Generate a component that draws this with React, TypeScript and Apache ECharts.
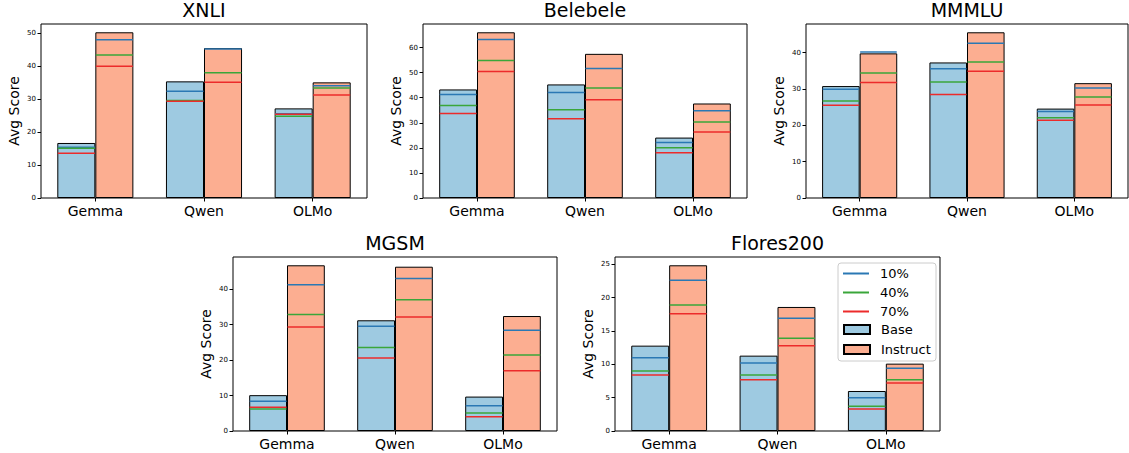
import React, { useEffect, useRef } from "react";
import * as echarts from "echarts";

const categories = ["Gemma", "Qwen", "OLMo"];
const benchmarks = ["XNLI", "Belebele", "MMMLU", "MGSM", "Flores200"];

// totals
const xnliBase = [16.7, 35.4, 27.2];
const xnliInstruct = [50.3, 45.5, 35.1];
const belebeleBase = [43.3, 45.3, 24.1];
const belebeleInstruct = [66.1, 57.5, 37.7];
const mmmluBase = [30.8, 37.3, 24.6];
const mmmluInstruct = [39.8, 45.6, 31.6];
const mgsmBase = [10.1, 31.2, 9.7];
const mgsmInstruct = [46.7, 46.3, 32.4];
const floresBase = [12.8, 11.3, 6.0];
const floresInstruct = [24.85, 18.6, 10.1];

// percentile markers: [10%, 40%, 70%] per model
const xnliBaseP = [[15.4, 15.1, 13.6], [32.4, 29.6, 29.4], [25.6, 24.8, 25.4]];
const xnliInstructP = [[48.0, 43.4, 40.0], [45.2, 38.0, 35.1], [34.1, 33.4, 31.3]];
const belebeleBaseP = [[41.3, 36.9, 33.7], [42.1, 35.2, 31.6], [22.1, 20.0, 18.0]];
const belebeleInstructP = [[63.2, 54.8, 50.5], [51.7, 43.9, 39.2], [34.8, 30.3, 26.3]];
const mmmluBaseP = [[29.9, 26.7, 25.5], [35.6, 31.9, 28.5], [23.8, 22.1, 21.4]];
const mmmluInstructP = [[40.2, 34.4, 31.8], [42.6, 37.4, 34.9], [30.3, 27.8, 25.6]];
const mgsmBaseP = [[8.4, 6.2, 6.7], [29.5, 23.5, 20.6], [7.1, 5.1, 4.0]];
const mgsmInstructP = [[41.2, 32.8, 29.3], [43.0, 37.0, 32.1], [28.4, 21.4, 17.0]];
const floresBaseP = [[11.0, 9.0, 8.4], [10.2, 8.4, 7.7], [5.0, 3.7, 3.3]];
const floresInstructP = [[22.6, 18.9, 17.6], [16.9, 13.9, 12.8], [9.4, 7.7, 7.2]];

const yIntervals = [10, 10, 10, 10, 5];
const percentNames = ["10%", "40%", "70%"];
const percentColors = ["#2a78b4", "#3aa63a", "#ec2b2b"];

const baseSets = [xnliBase, belebeleBase, mmmluBase, mgsmBase, floresBase];
const instructSets = [xnliInstruct, belebeleInstruct, mmmluInstruct, mgsmInstruct, floresInstruct];
const baseP = [xnliBaseP, belebeleBaseP, mmmluBaseP, mgsmBaseP, floresBaseP];
const instructP = [xnliInstructP, belebeleInstructP, mmmluInstructP, mgsmInstructP, floresInstructP];

const grids = [
  { left: 41, top: 24, width: 326, height: 174 },
  { left: 423, top: 24, width: 324, height: 174 },
  { left: 806, top: 24, width: 322, height: 174 },
  { left: 233, top: 257, width: 324, height: 174 },
  { left: 615, top: 257, width: 325, height: 174 },
];

const FONT = "DejaVu Sans";
const BASE_COLOR = "#9ecae1";
const INSTRUCT_COLOR = "#fcae91";

export default function App() {
  const ref = useRef<HTMLDivElement>(null);
  useEffect(() => {
    if (!ref.current) return;
    const chart = echarts.init(ref.current, undefined, { renderer: "svg" });

    const series: any[] = [];
    benchmarks.forEach((_, i) => {
      series.push({
        name: "Base",
        type: "bar",
        xAxisIndex: i,
        yAxisIndex: i,
        data: baseSets[i],
        barWidth: "35%",
        barGap: "0%",
        itemStyle: { color: BASE_COLOR, borderColor: "#000", borderWidth: 1 },
        z: 2,
      });
      series.push({
        name: "Instruct",
        type: "bar",
        xAxisIndex: i,
        yAxisIndex: i,
        data: instructSets[i],
        barWidth: "35%",
        barGap: "0%",
        itemStyle: { color: INSTRUCT_COLOR, borderColor: "#000", borderWidth: 1 },
        z: 2,
      });
      percentNames.forEach((pn, k) => {
        const data: number[][] = [];
        categories.forEach((_, c) => {
          data.push([c, baseP[i][c][k], 0]);
          data.push([c, instructP[i][c][k], 1]);
        });
        series.push({
          name: pn,
          type: "custom",
          xAxisIndex: i,
          yAxisIndex: i,
          data,
          encode: { x: 0, y: 1 },
          itemStyle: { color: percentColors[k] },
          z: 5 + k,
          renderItem: (params: any, api: any) => {
            const cat = api.value(0);
            const val = api.value(1);
            const side = api.value(2);
            const p = api.coord([cat, val]);
            const band = api.size([1, 0])[0];
            const bw = band * 0.35;
            const x0 = side === 0 ? p[0] - bw : p[0];
            return {
              type: "line",
              shape: { x1: x0 + 0.5, y1: p[1], x2: x0 + bw - 0.5, y2: p[1] },
              style: { stroke: percentColors[k], lineWidth: 1.5 },
            };
          },
        });
      });
    });

    const option: any = {
      animation: false,
      textStyle: { fontFamily: FONT },
      title: benchmarks.map((b, i) => ({
        text: b,
        left: grids[i].left + grids[i].width / 2,
        top: grids[i].top - 24,
        textAlign: "center",
        padding: 0,
        textStyle: { fontFamily: FONT, fontSize: 19, fontWeight: "normal", color: "#000" },
      })),
      grid: grids.map((g) => ({
        ...g,
        show: true,
        borderColor: "#000",
        borderWidth: 1,
        backgroundColor: "transparent",
        containLabel: false,
      })),
      xAxis: benchmarks.map((_, i) => ({
        type: "category",
        gridIndex: i,
        data: categories,
        axisLine: { show: false },
        axisTick: { show: true, alignWithLabel: true, length: 3.5, lineStyle: { color: "#000" } },
        axisLabel: { fontFamily: FONT, fontSize: 14, color: "#000", margin: 6 },
      })),
      yAxis: benchmarks.map((_, i) => {
        const m = Math.max(...baseSets[i], ...instructSets[i], ...baseP[i].flat(), ...instructP[i].flat());
        return {
          type: "value",
          gridIndex: i,
          min: 0,
          max: m * 1.05,
          interval: yIntervals[i],
          name: "Avg Score",
          nameLocation: "middle",
          nameGap: 20,
          nameTextStyle: { fontFamily: FONT, fontSize: 14, color: "#000" },
          splitLine: { show: false },
          axisLine: { show: false },
          axisTick: { show: true, length: 3.5, lineStyle: { color: "#000" } },
          axisLabel: {
            fontFamily: FONT,
            fontSize: 7,
            color: "#000",
            margin: 5,
            showMaxLabel: false,
          },
        };
      }),
      legend: [
        {
          data: percentNames,
          orient: "vertical",
          left: 838,
          top: 262,
          itemWidth: 26,
          itemHeight: 2,
          icon: "rect",
          itemGap: 6,
          textStyle: { fontFamily: FONT, fontSize: 13, color: "#000", padding: [0, 0, 0, 6] },
        },
        {
          data: ["Base", "Instruct"],
          orient: "vertical",
          left: 838,
          top: 318,
          itemWidth: 26,
          itemHeight: 9,
          icon: "rect",
          itemGap: 7,
          textStyle: { fontFamily: FONT, fontSize: 13, color: "#000", padding: [0, 0, 0, 6] },
        },
      ],
      graphic: [
        {
          type: "rect",
          z: 3,
          shape: { x: 838, y: 263, width: 98, height: 98, r: 3 },
          style: { fill: "rgba(255,255,255,0.85)", stroke: "#cccccc", lineWidth: 1 },
        },
      ],
      series,
    };
    chart.setOption(option);
    return () => chart.dispose();
  }, []);

  return (
    <div
      ref={ref}
      style={{ position: "fixed", left: 0, top: 0, width: 1129, height: 453, background: "#fff" }}
    />
  );
}
